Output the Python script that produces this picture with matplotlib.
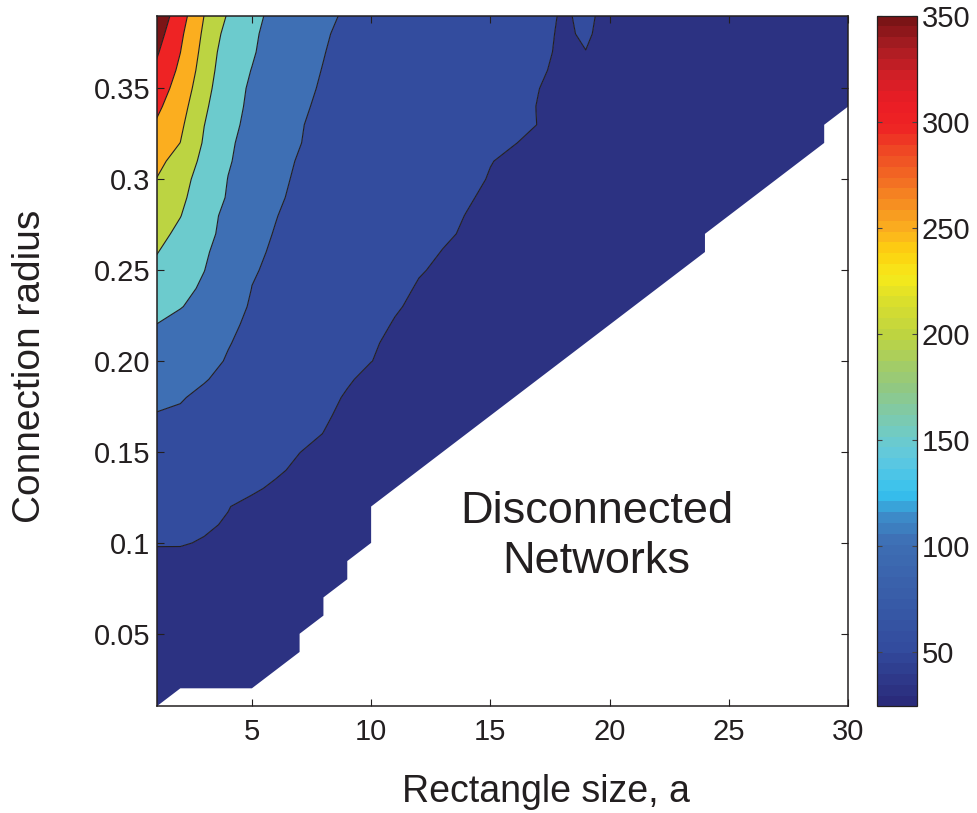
import numpy as np
import matplotlib
matplotlib.use("Agg")
import matplotlib.pyplot as plt
from matplotlib.colors import LinearSegmentedColormap, ListedColormap, Normalize
from matplotlib.cm import ScalarMappable

plt.rcParams['font.family'] = ['Liberation Sans', 'DejaVu Sans']

nan = float('nan')

# ---------------- data ----------------
RECT_SIZE = [1, 2, 3, 4, 5, 6, 7, 8, 9, 10, 11, 12, 13, 14, 15,
             16, 17, 18, 19, 20, 21, 22, 23, 24, 25, 26, 27, 28, 29, 30]
RADIUS = [0.01, 0.02, 0.03, 0.04, 0.05, 0.06, 0.07, 0.08, 0.09, 0.10,
          0.11, 0.12, 0.13, 0.14, 0.15, 0.16, 0.17, 0.18, 0.19, 0.20,
          0.21, 0.22, 0.23, 0.24, 0.25, 0.26, 0.27, 0.28, 0.29, 0.30,
          0.31, 0.32, 0.33, 0.34, 0.35, 0.36, 0.37, 0.38, 0.39]
# rows: connection radius (bottom to top); columns: rectangle size; nan = disconnected
MEAN_VALUE = [
    [33] + [nan] * 29,
    [34, 34, 33.5, 32.5, 31.5] + [nan] * 25,
    [35, 35, 34.5, 33.5, 32.5, 31.5] + [nan] * 24,
    [36, 36, 35.5, 34.5, 33.5, 32.5, 31.5] + [nan] * 23,
    [37, 37.5, 37, 36, 35, 34, 33] + [nan] * 23,
    [38.5, 39, 38.5, 37.5, 36.5, 35.5, 34.5, 33.5] + [nan] * 22,
    [40, 41, 40, 39, 38, 37, 36, 35] + [nan] * 22,
    [42, 43, 42, 41, 40, 39, 38, 37, 36] + [nan] * 21,
    [45, 46, 44.5, 43, 42, 41, 40, 39, 38] + [nan] * 21,
    [51.3, 51, 49, 47, 45, 43, 41.5, 40.5, 39.5, 38.5] + [nan] * 20,
    [58, 54.9, 51.8, 48.8, 45.5, 43.5, 42, 41, 40, 39] + [nan] * 20,
    [65, 60.2, 55.3, 50.5, 46, 44.5, 43, 42, 41, 40] + [nan] * 20,
    [71, 66.3, 61.7, 57, 52.3, 47.5, 45, 43.5, 42, 41, 40] + [nan] * 19,
    [78, 72.9, 67.7, 62.6, 57.5, 52.3, 47, 45, 43.5, 42, 41, 40] + [nan] * 18,
    [85, 79.2, 73.3, 67.5, 61.7, 55.8, 50.2, 46, 44.5, 43, 42, 41, 40.5] + [nan] * 17,
    [92, 86, 79.9, 73.9, 67.8, 61.8, 55.7, 49.7, 46, 44, 43, 42, 41.5, 40.5] + [nan] * 16,
    [98, 96.5, 89.2, 81.9, 74.6, 67.2, 59.9, 52.6, 45.5, 44, 43.5, 42.5, 42, 41, 40] + [nan] * 15,
    [108, 101.8, 94.6, 86.8, 79.1, 71.3, 63.6, 55.8, 48, 45.5, 44, 43, 42.5, 41.5, 40.5, 39.5] + [nan] * 14,
    [118, 109.8, 101.6, 93.4, 85.1, 76.9, 68.6, 60.3, 52.1, 45, 44.5, 43.5, 43, 42, 41, 40, 39] + [nan] * 13,
    [129, 118.5, 107.9, 98, 90, 82, 74, 66, 58, 50.3, 45, 44, 43.5, 42.5, 41.5, 40.5, 39.5, 38] + [nan] * 12,
    [140, 127.1, 114.2, 101.3, 92.8, 84.8, 76.8, 68.8, 60.8, 52.8, 45, 44.5, 44, 43, 42, 41, 40, 38.5, 37.5] + [nan] * 11,
    [149.5, 135.4, 121.3, 104, 96, 88, 80, 72, 64, 56, 48.5, 46, 45, 43.5, 42.5, 41.5, 40.5, 39, 38, 37] + [nan] * 10,
    [163, 152.2, 134.6, 106.4, 98.4, 90.7, 82.9, 75.2, 67.4, 59.7, 51.9, 46, 45.5, 44, 43, 42, 41, 39.5, 38.5, 37.5, 36.5] + [nan] * 9,
    [176, 161.1, 144.3, 121.6, 99.6, 92.3, 84.9, 77.6, 70.2, 62.9, 55.5, 48.2, 46, 44.5, 43.5, 42.5, 41.5, 40, 39, 38, 37, 35.5] + [nan] * 8,
    [190, 170, 150.5, 128.3, 102.2, 94.9, 87.7, 80.4, 73.2, 65.9, 58.7, 51.4, 47, 45.5, 44, 43, 42, 40.5, 39.5, 38.5, 37.5, 36, 34.5] + [nan] * 7,
    [202, 178.6, 154.8, 133.3, 104, 97.3, 90.4, 83.6, 76.7, 69.9, 63, 56.2, 49.3, 46.5, 45, 43.5, 42.5, 41, 40, 39, 38, 36.5, 35, 33.5] + [nan] * 6,
    [214, 190, 161.4, 137.8, 105.7, 99, 92.5, 85.9, 79.4, 72.9, 66.3, 59.8, 53.3, 47.5, 45.5, 44, 43, 41.5, 40.5, 39.5, 38.5, 37, 35.5, 34] + [nan] * 6,
    [226, 201.2, 169.4, 137.1, 122, 100.6, 94.2, 87.8, 81.4, 75, 68.6, 62.2, 55.8, 49.4, 46, 44.5, 43.5, 42, 41, 40, 39, 37.5, 36, 34.5, 33] + [nan] * 5,
    [238, 208.8, 176.7, 146.2, 126.9, 102.5, 96.2, 89.9, 83.6, 77.4, 71.1, 64.8, 58.5, 52.2, 46, 45, 44, 42.5, 41.5, 40.5, 39.5, 38, 36.5, 35, 33.5, 32.5] + [nan] * 4,
    [249, 215.2, 181.7, 149.1, 130.2, 103.6, 97.6, 91.5, 85.4, 79.3, 73.2, 67.1, 61, 54.9, 48.8, 46, 44.5, 43, 42, 41, 40, 38.5, 37, 35.5, 34, 33, 32] + [nan] * 3,
    [264, 229.5, 187.9, 153.4, 133.3, 104.8, 98.8, 92.8, 86.7, 80.7, 74.7, 68.7, 62.7, 56.6, 50.6, 46.5, 45, 43.5, 42.5, 41.5, 40.5, 39, 37.5, 36, 34.5, 33.5, 32.5, 31.5] + [nan] * 2,
    [280, 249.5, 194.8, 160.3, 126, 118.5, 100.5, 94.5, 89, 83.5, 78, 72.5, 67, 61.5, 56, 50.5, 46.5, 44, 43, 42, 41, 39.5, 38, 36.5, 35, 34, 33, 32, 31, nan],
    [295, 259, 200.5, 166.7, 133.3, 122.2, 101, 95.9, 90.8, 85.6, 80.5, 75.4, 70.3, 65.1, 60, 54.9, 49.7, 44.5, 43.5, 42.5, 41.5, 40, 38.5, 37, 35.5, 34.5, 33.5, 32.5, 31.5, nan],
    [310, 269, 210, 154.4, 147.6, 125.9, 102.4, 97.1, 91.8, 86.5, 81.2, 75.9, 70.6, 65.3, 60.1, 54.8, 49.5, 45, 44, 43, 42, 40.5, 39, 37.5, 36, 35, 34, 33, 32, 31],
    [325, 280.1, 219.5, 160.4, 146.6, 129.3, 103.7, 98.4, 93, 87.7, 82.4, 77, 71.7, 66.3, 61, 55.6, 50.3, 45.5, 44.5, 43.5, 42.5, 41, 39.5, 38, 36.5, 35.5, 34.5, 33.5, 32.5, 31.5],
    [341, 290.6, 228.1, 165.7, 149.2, 132.2, 104.5, 99.5, 94.2, 88.9, 83.7, 78.4, 73.2, 67.9, 62.6, 57.4, 52.1, 46.8, 45.5, 44.5, 43.5, 42, 40.5, 39, 37.5, 36.5, 35.5, 34.5, 33.5, 32.5],
    [356, 300.5, 234.4, 171.9, 153.2, 135, 118.3, 100.5, 95.3, 90, 84.7, 79.5, 74.2, 68.9, 63.7, 58.4, 53.2, 47.9, 49.8, 45.5, 44, 42.5, 41, 39.5, 38, 37, 36, 35, 34, 33],
    [371, 309.4, 241.2, 182.3, 159.4, 128.1, 121.7, 101.6, 96.3, 91.1, 85.9, 80.6, 75.4, 70.2, 64.9, 59.7, 54.5, 48, 51.5, 46, 44.5, 43, 41.5, 40, 38.5, 37.5, 36.5, 35.5, 34.5, 33.5],
    [387, 321.6, 249.4, 195.7, 165.2, 134.8, 126, 103.3, 98, 92.6, 87.2, 81.8, 76.4, 71, 65.6, 60.2, 56, 48.5, 52, 47, 45, 43.5, 42, 40.5, 39, 38, 37, 36, 35, 34],
]

LEVELS = [50, 100, 150, 200, 250, 300, 350]
CBAR_TICKS = [50, 100, 150, 200, 250, 300, 350]
X_TICKS = [5, 10, 15, 20, 25, 30]
Y_TICKS = [0.05, 0.1, 0.15, 0.20, 0.25, 0.3, 0.35]
Y_TICK_LABELS = ['0.05', '0.1', '0.15', '0.20', '0.25', '0.3', '0.35']
CLIM = (24.3, 350.3)
X_LABEL = 'Rectangle size, a'
Y_LABEL = 'Connection radius'
REGION_LABEL = 'Disconnected\nNetworks'

# ---------------- style ----------------
INK = '#231f20'
ANCHORS = [(24.3, '#2a2b7b'), (50, '#334c9e'), (100, '#3e6fb4'), (112, '#3d88c6'),
           (124, '#35c2ef'), (140, '#5ec8e0'), (150, '#6dcbcc'), (175, '#93c87f'),
           (200, '#bdd441'), (215, '#d8de2e'), (228, '#f6e91b'), (240, '#fdd00f'),
           (250, '#fbb01f'), (262, '#f68f21'), (275, '#f36d23'), (288, '#ef4a24'),
           (300, '#ee2324'), (312, '#ea1d25'), (325, '#cf1f26'), (338, '#a81c22'),
           (350.3, '#7b1416')]
norm = Normalize(vmin=CLIM[0], vmax=CLIM[1])
base_cmap = LinearSegmentedColormap.from_list(
    'printjet', [(norm(v), c) for v, c in ANCHORS])
cmap64 = ListedColormap(base_cmap(np.linspace(0, 1, 64)))

fig = plt.figure(figsize=(9.77, 8.13), dpi=100)
ax = fig.add_axes([0.1602, 0.1310, 0.7078, 0.8497])
cax = fig.add_axes([0.8973, 0.1310, 0.0409, 0.8497])

X, Y = np.meshgrid(RECT_SIZE, RADIUS)
Z = np.ma.masked_invalid(np.array(MEAN_VALUE, dtype=float))
edges = [float(Z.min()) - 1] + LEVELS + [float(Z.max()) + 1]
band_colors = [base_cmap(norm(max(e, CLIM[0]))) for e in edges[:-1]]
ax.contourf(X, Y, Z, levels=edges, colors=band_colors, corner_mask=True,
            antialiased=True)
ax.contour(X, Y, Z, levels=LEVELS, colors=INK, linewidths=0.8, corner_mask=True)

ax.set_xlim(1, 30)
ax.set_ylim(0.01, 0.39)
ax.set_xticks(X_TICKS)
ax.set_xticklabels([str(t) for t in X_TICKS])
ax.set_yticks(Y_TICKS)
ax.set_yticklabels(Y_TICK_LABELS)
ax.tick_params(axis='both', direction='in', length=5, width=0.8, color=INK,
               labelsize=21, labelcolor=INK, top=True, right=True)
ax.tick_params(axis='x', pad=8.5)
ax.tick_params(axis='y', pad=4.5)
for s in ax.spines.values():
    s.set_linewidth(1.1)
    s.set_color(INK)

ax.set_xlabel(X_LABEL, fontsize=27, color=INK, va='center')
ax.xaxis.set_label_coords(0.5625, -0.124)
ax.set_ylabel(Y_LABEL, fontsize=28, color=INK, va='center')
ax.yaxis.set_label_coords(-0.183, 0.493)

ax.text(19.45, 0.1035, REGION_LABEL, ha='center', va='center', fontsize=32.5,
        color=INK, linespacing=1.3)

sm = ScalarMappable(norm=norm, cmap=cmap64)
cb = fig.colorbar(sm, cax=cax, ticks=CBAR_TICKS)
cb.outline.set_edgecolor(INK)
cb.outline.set_linewidth(0.9)
cax.tick_params(direction='in', length=3.6, width=0.8, color='#444444',
                left=True, right=True, labelsize=21, labelcolor=INK, pad=3.5)
cax.set_yticklabels([str(t) for t in CBAR_TICKS])

fig.savefig('out.png', dpi=100)
